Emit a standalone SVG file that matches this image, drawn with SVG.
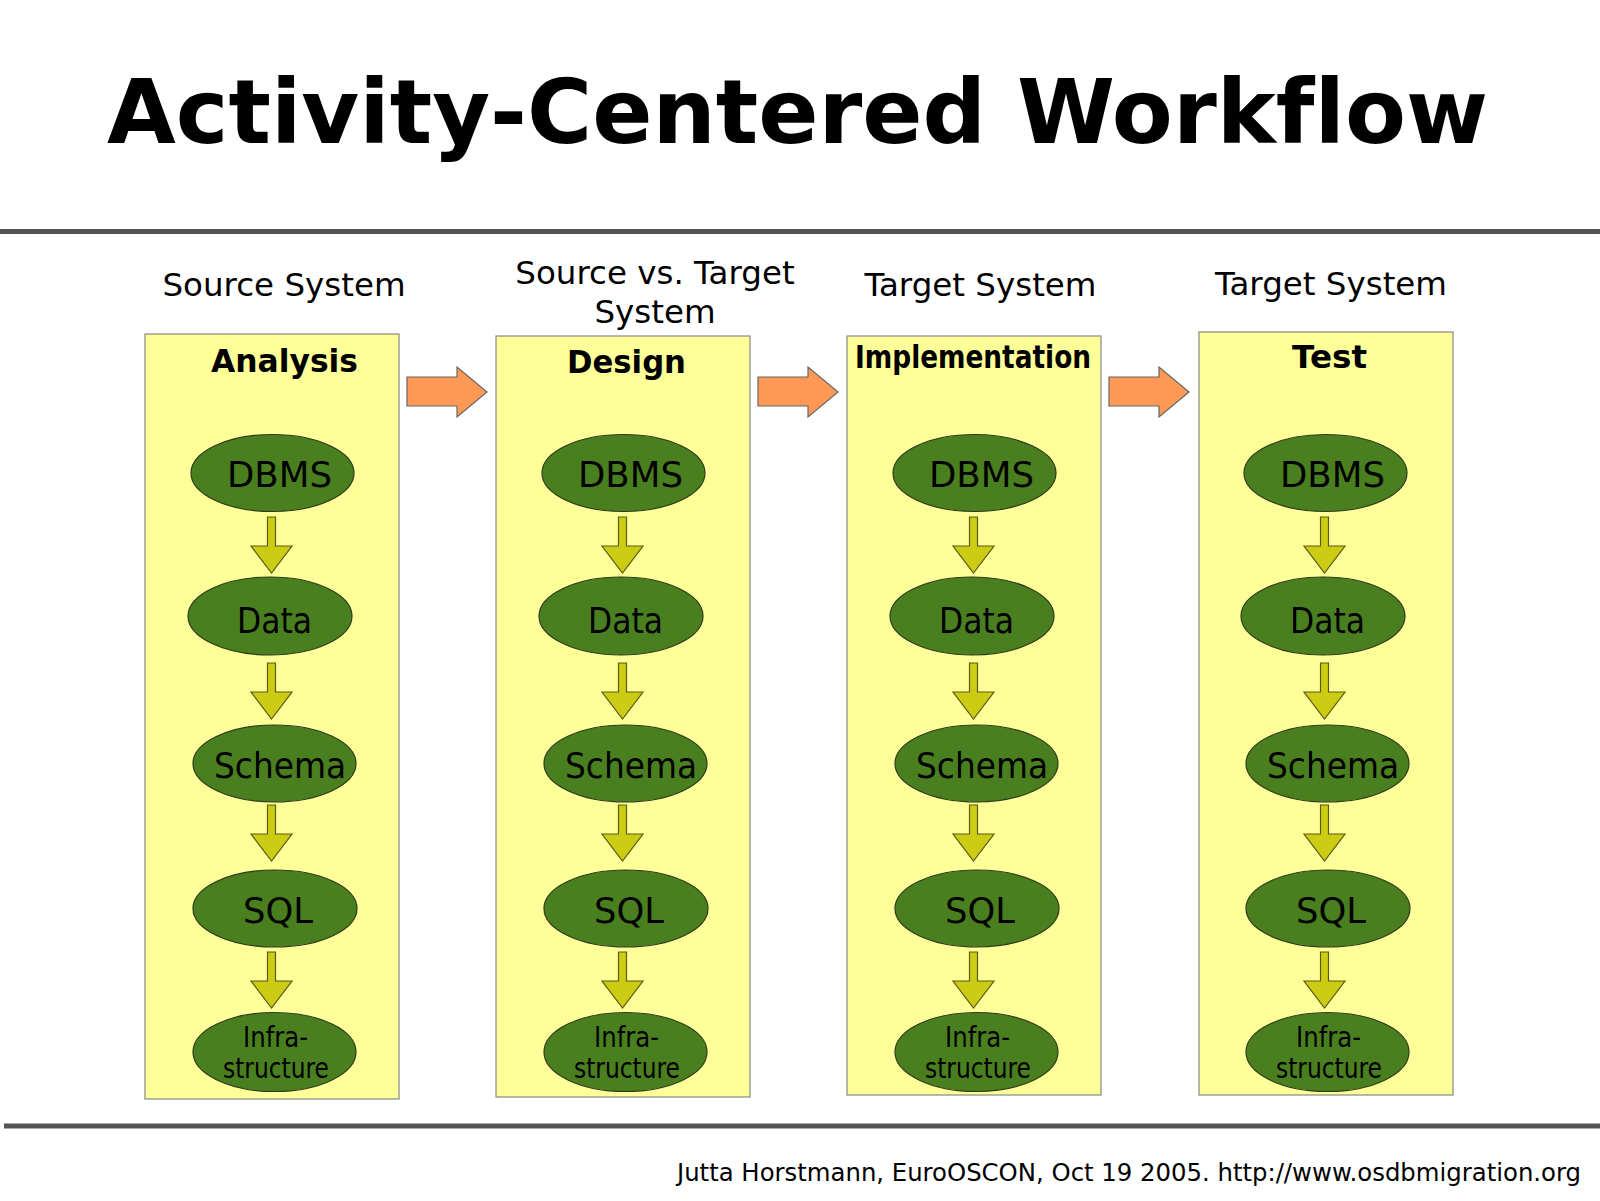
<svg xmlns="http://www.w3.org/2000/svg" xmlns:xlink="http://www.w3.org/1999/xlink" width="1600" height="1201" viewBox="0 0 1600 1201">
<style>
text{font-family:"DejaVu Sans","Liberation Sans",sans-serif;fill:#000;font-variant-ligatures:none}
.title{font-size:88.5px;font-weight:bold}
.hdr{font-size:32.5px}
.btitle{font-size:31.5px;font-weight:bold}
.box{fill:#ffff99;stroke:#888;stroke-width:1.2}
.ell{fill:#4a7f1f;stroke:#2e3a1a;stroke-width:1.2}
.et{font-size:35px}
.inf{font-size:27.5px}
.rule{stroke:#555;stroke-width:5}
.oarr{fill:#ff9955;stroke:#666;stroke-width:1.2}
.garr{fill:#cccc14;stroke:#5a5a10;stroke-width:1.2}
</style>
<defs>
<polygon id="orange" class="oarr" points="0,10 50,10 50,0 80,25 50,50 50,39 0,39"/>
<polygon id="green" class="garr" points="-4,0 4,0 4,29 20.5,29 0,56 -20.5,29 -4,29"/>
</defs>
<rect width="1600" height="1201" fill="#fff"/>
<text class="title" x="797.5" y="143" text-anchor="middle" textLength="1381" lengthAdjust="spacingAndGlyphs">Activity-Centered Workflow</text>
<line class="rule" x1="0" y1="231.5" x2="1600" y2="231.5"/>
<line class="rule" x1="4" y1="1126" x2="1600" y2="1126"/>
<text x="1581" y="1181" text-anchor="end" font-size="24" textLength="904" lengthAdjust="spacingAndGlyphs">Jutta Horstmann, EuroOSCON, Oct 19 2005. http://www.osdbmigration.org</text>

<g id="headers">
<text class="hdr" x="284" y="296" text-anchor="middle">Source System</text>
<text class="hdr" x="655" y="284" text-anchor="middle">Source vs. Target</text>
<text class="hdr" x="655" y="323" text-anchor="middle">System</text>
<text class="hdr" x="980.5" y="296" text-anchor="middle">Target System</text>
<text class="hdr" x="1331" y="295" text-anchor="middle">Target System</text>
</g>

<g id="box-analysis"><rect class="box" x="145" y="334" width="254" height="765"/><text class="btitle" x="284.5" y="372" text-anchor="middle" textLength="147" lengthAdjust="spacingAndGlyphs">Analysis</text></g>
<g id="box-design"><rect class="box" x="496" y="336" width="254" height="761"/><text class="btitle" x="626.5" y="373" text-anchor="middle" textLength="119" lengthAdjust="spacingAndGlyphs">Design</text></g>
<g id="box-implementation"><rect class="box" x="847" y="336" width="254" height="759"/><text class="btitle" x="973" y="368" text-anchor="middle" font-size="26.5" textLength="236" lengthAdjust="spacingAndGlyphs">Implementation</text></g>
<g id="box-test"><rect class="box" x="1199" y="332" width="254" height="763"/><text class="btitle" x="1329.5" y="368" text-anchor="middle" textLength="75" lengthAdjust="spacingAndGlyphs">Test</text></g>

<g id="connectors">
<use xlink:href="#orange" x="407" y="367"/>
<use xlink:href="#orange" x="758" y="367"/>
<use xlink:href="#orange" x="1109" y="367"/>
<use xlink:href="#green" x="271.5" y="517"/>
<use xlink:href="#green" x="271.5" y="663"/>
<use xlink:href="#green" x="271.5" y="805"/>
<use xlink:href="#green" x="271.5" y="952"/>
<use xlink:href="#green" x="622.5" y="517"/>
<use xlink:href="#green" x="622.5" y="663"/>
<use xlink:href="#green" x="622.5" y="805"/>
<use xlink:href="#green" x="622.5" y="952"/>
<use xlink:href="#green" x="973.5" y="517"/>
<use xlink:href="#green" x="973.5" y="663"/>
<use xlink:href="#green" x="973.5" y="805"/>
<use xlink:href="#green" x="973.5" y="952"/>
<use xlink:href="#green" x="1324.5" y="517"/>
<use xlink:href="#green" x="1324.5" y="663"/>
<use xlink:href="#green" x="1324.5" y="805"/>
<use xlink:href="#green" x="1324.5" y="952"/>
</g>

<g id="col1-nodes">
<g id="a-dbms"><ellipse class="ell" cx="272.5" cy="473" rx="81.5" ry="38.5"/><text class="et" x="279.5" y="487" text-anchor="middle" textLength="105" lengthAdjust="spacingAndGlyphs">DBMS</text></g>
<g id="a-data"><ellipse class="ell" cx="270" cy="616" rx="82" ry="39"/><text class="et" x="274.5" y="633" text-anchor="middle" textLength="75" lengthAdjust="spacingAndGlyphs">Data</text></g>
<g id="a-schema"><ellipse class="ell" cx="274.5" cy="763.5" rx="81.5" ry="38.5"/><text class="et" x="280" y="778" text-anchor="middle" textLength="132" lengthAdjust="spacingAndGlyphs">Schema</text></g>
<g id="a-sql"><ellipse class="ell" cx="275" cy="908.5" rx="82" ry="38.5"/><text class="et" x="278" y="923" text-anchor="middle" font-size="44" textLength="70" lengthAdjust="spacingAndGlyphs">SQL</text></g>
<g id="a-infra"><ellipse class="ell" cx="274.5" cy="1052" rx="81.5" ry="39.5"/><text class="inf" x="275.5" y="1047" text-anchor="middle" textLength="65" lengthAdjust="spacingAndGlyphs">Infra-</text><text class="inf" x="276" y="1078" text-anchor="middle" textLength="106" lengthAdjust="spacingAndGlyphs">structure</text></g>
</g>

<g id="col2-nodes" transform="translate(351,0)">
<g id="d-dbms"><ellipse class="ell" cx="272.5" cy="473" rx="81.5" ry="38.5"/><text class="et" x="279.5" y="487" text-anchor="middle" textLength="105" lengthAdjust="spacingAndGlyphs">DBMS</text></g>
<g id="d-data"><ellipse class="ell" cx="270" cy="616" rx="82" ry="39"/><text class="et" x="274.5" y="633" text-anchor="middle" textLength="75" lengthAdjust="spacingAndGlyphs">Data</text></g>
<g id="d-schema"><ellipse class="ell" cx="274.5" cy="763.5" rx="81.5" ry="38.5"/><text class="et" x="280" y="778" text-anchor="middle" textLength="132" lengthAdjust="spacingAndGlyphs">Schema</text></g>
<g id="d-sql"><ellipse class="ell" cx="275" cy="908.5" rx="82" ry="38.5"/><text class="et" x="278" y="923" text-anchor="middle" font-size="44" textLength="70" lengthAdjust="spacingAndGlyphs">SQL</text></g>
<g id="d-infra"><ellipse class="ell" cx="274.5" cy="1052" rx="81.5" ry="39.5"/><text class="inf" x="275.5" y="1047" text-anchor="middle" textLength="65" lengthAdjust="spacingAndGlyphs">Infra-</text><text class="inf" x="276" y="1078" text-anchor="middle" textLength="106" lengthAdjust="spacingAndGlyphs">structure</text></g>
</g>

<g id="col3-nodes" transform="translate(702,0)">
<g id="i-dbms"><ellipse class="ell" cx="272.5" cy="473" rx="81.5" ry="38.5"/><text class="et" x="279.5" y="487" text-anchor="middle" textLength="105" lengthAdjust="spacingAndGlyphs">DBMS</text></g>
<g id="i-data"><ellipse class="ell" cx="270" cy="616" rx="82" ry="39"/><text class="et" x="274.5" y="633" text-anchor="middle" textLength="75" lengthAdjust="spacingAndGlyphs">Data</text></g>
<g id="i-schema"><ellipse class="ell" cx="274.5" cy="763.5" rx="81.5" ry="38.5"/><text class="et" x="280" y="778" text-anchor="middle" textLength="132" lengthAdjust="spacingAndGlyphs">Schema</text></g>
<g id="i-sql"><ellipse class="ell" cx="275" cy="908.5" rx="82" ry="38.5"/><text class="et" x="278" y="923" text-anchor="middle" font-size="44" textLength="70" lengthAdjust="spacingAndGlyphs">SQL</text></g>
<g id="i-infra"><ellipse class="ell" cx="274.5" cy="1052" rx="81.5" ry="39.5"/><text class="inf" x="275.5" y="1047" text-anchor="middle" textLength="65" lengthAdjust="spacingAndGlyphs">Infra-</text><text class="inf" x="276" y="1078" text-anchor="middle" textLength="106" lengthAdjust="spacingAndGlyphs">structure</text></g>
</g>

<g id="col4-nodes" transform="translate(1053,0)">
<g id="t-dbms"><ellipse class="ell" cx="272.5" cy="473" rx="81.5" ry="38.5"/><text class="et" x="279.5" y="487" text-anchor="middle" textLength="105" lengthAdjust="spacingAndGlyphs">DBMS</text></g>
<g id="t-data"><ellipse class="ell" cx="270" cy="616" rx="82" ry="39"/><text class="et" x="274.5" y="633" text-anchor="middle" textLength="75" lengthAdjust="spacingAndGlyphs">Data</text></g>
<g id="t-schema"><ellipse class="ell" cx="274.5" cy="763.5" rx="81.5" ry="38.5"/><text class="et" x="280" y="778" text-anchor="middle" textLength="132" lengthAdjust="spacingAndGlyphs">Schema</text></g>
<g id="t-sql"><ellipse class="ell" cx="275" cy="908.5" rx="82" ry="38.5"/><text class="et" x="278" y="923" text-anchor="middle" font-size="44" textLength="70" lengthAdjust="spacingAndGlyphs">SQL</text></g>
<g id="t-infra"><ellipse class="ell" cx="274.5" cy="1052" rx="81.5" ry="39.5"/><text class="inf" x="275.5" y="1047" text-anchor="middle" textLength="65" lengthAdjust="spacingAndGlyphs">Infra-</text><text class="inf" x="276" y="1078" text-anchor="middle" textLength="106" lengthAdjust="spacingAndGlyphs">structure</text></g>
</g>
</svg>
